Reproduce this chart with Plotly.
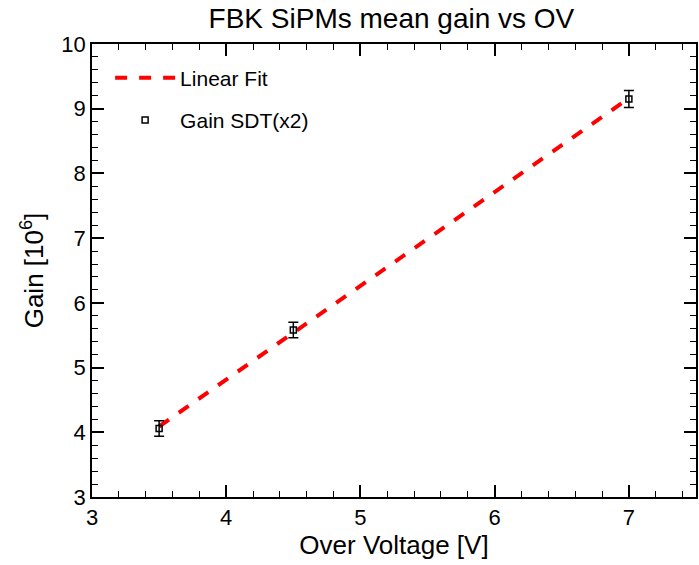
import numpy as np
import plotly.graph_objects as go

over_voltage = [3.5, 4.5, 7.0]
gain = [4.06, 5.58, 9.15]
gain_err = [0.12, 0.12, 0.13]

slope, intercept = np.polyfit(over_voltage, gain, 1)
fit_x = [min(over_voltage), max(over_voltage)]
fit_y = [slope * x + intercept for x in fit_x]

FONT = "Liberation Sans, Arial, sans-serif"

fig = go.Figure()
fig.add_trace(go.Scatter(
    x=fit_x, y=fit_y, mode="lines", name="Linear Fit", legendgroup="a",
    line=dict(color="#ff0000", width=4, dash="dash"),
))
fig.add_trace(go.Scatter(
    x=over_voltage, y=gain, mode="markers", name="Gain SDT(x2)", legendgroup="b",
    marker=dict(symbol="square-open", size=6, color="black", line=dict(width=1.5, color="black")),
    error_y=dict(type="data", array=gain_err, visible=True, color="black", thickness=1.5, width=5),
))

axis_common = dict(
    showgrid=False, zeroline=False, showline=True, linecolor="black", linewidth=1.5,
    mirror="allticks", ticks="inside", ticklen=12, tickwidth=1.5, tickcolor="black",
    tickfont=dict(size=22, color="black", family=FONT),
    minor=dict(ticks="inside", ticklen=6, tickwidth=1.2, tickcolor="black", dtick=0.2),
)

fig.update_layout(
    width=699, height=565,
    margin=dict(l=92, r=1, t=44, b=68),
    paper_bgcolor="white", plot_bgcolor="white",
    title=dict(text="FBK SiPMs mean gain vs OV", x=0.56, xanchor="center", y=0.985, yanchor="top",
               font=dict(size=28, color="black", family=FONT)),
    xaxis=dict(range=[3, 7.5], dtick=1, tick0=3,
               title=dict(text="Over Voltage [V]", font=dict(size=26, color="black", family=FONT), standoff=6),
               **axis_common),
    yaxis=dict(range=[3, 10], dtick=1, tick0=3,
               title=dict(text="Gain [10<sup>6</sup>]", font=dict(size=26, color="black", family=FONT), standoff=10),
               **axis_common),
    legend=dict(x=0.03, y=0.97, xanchor="left", yanchor="top", bgcolor="rgba(0,0,0,0)",
                font=dict(size=21, color="black", family=FONT), itemwidth=60, tracegroupgap=12),
    showlegend=True,
)

fig.write_html("out.html")
